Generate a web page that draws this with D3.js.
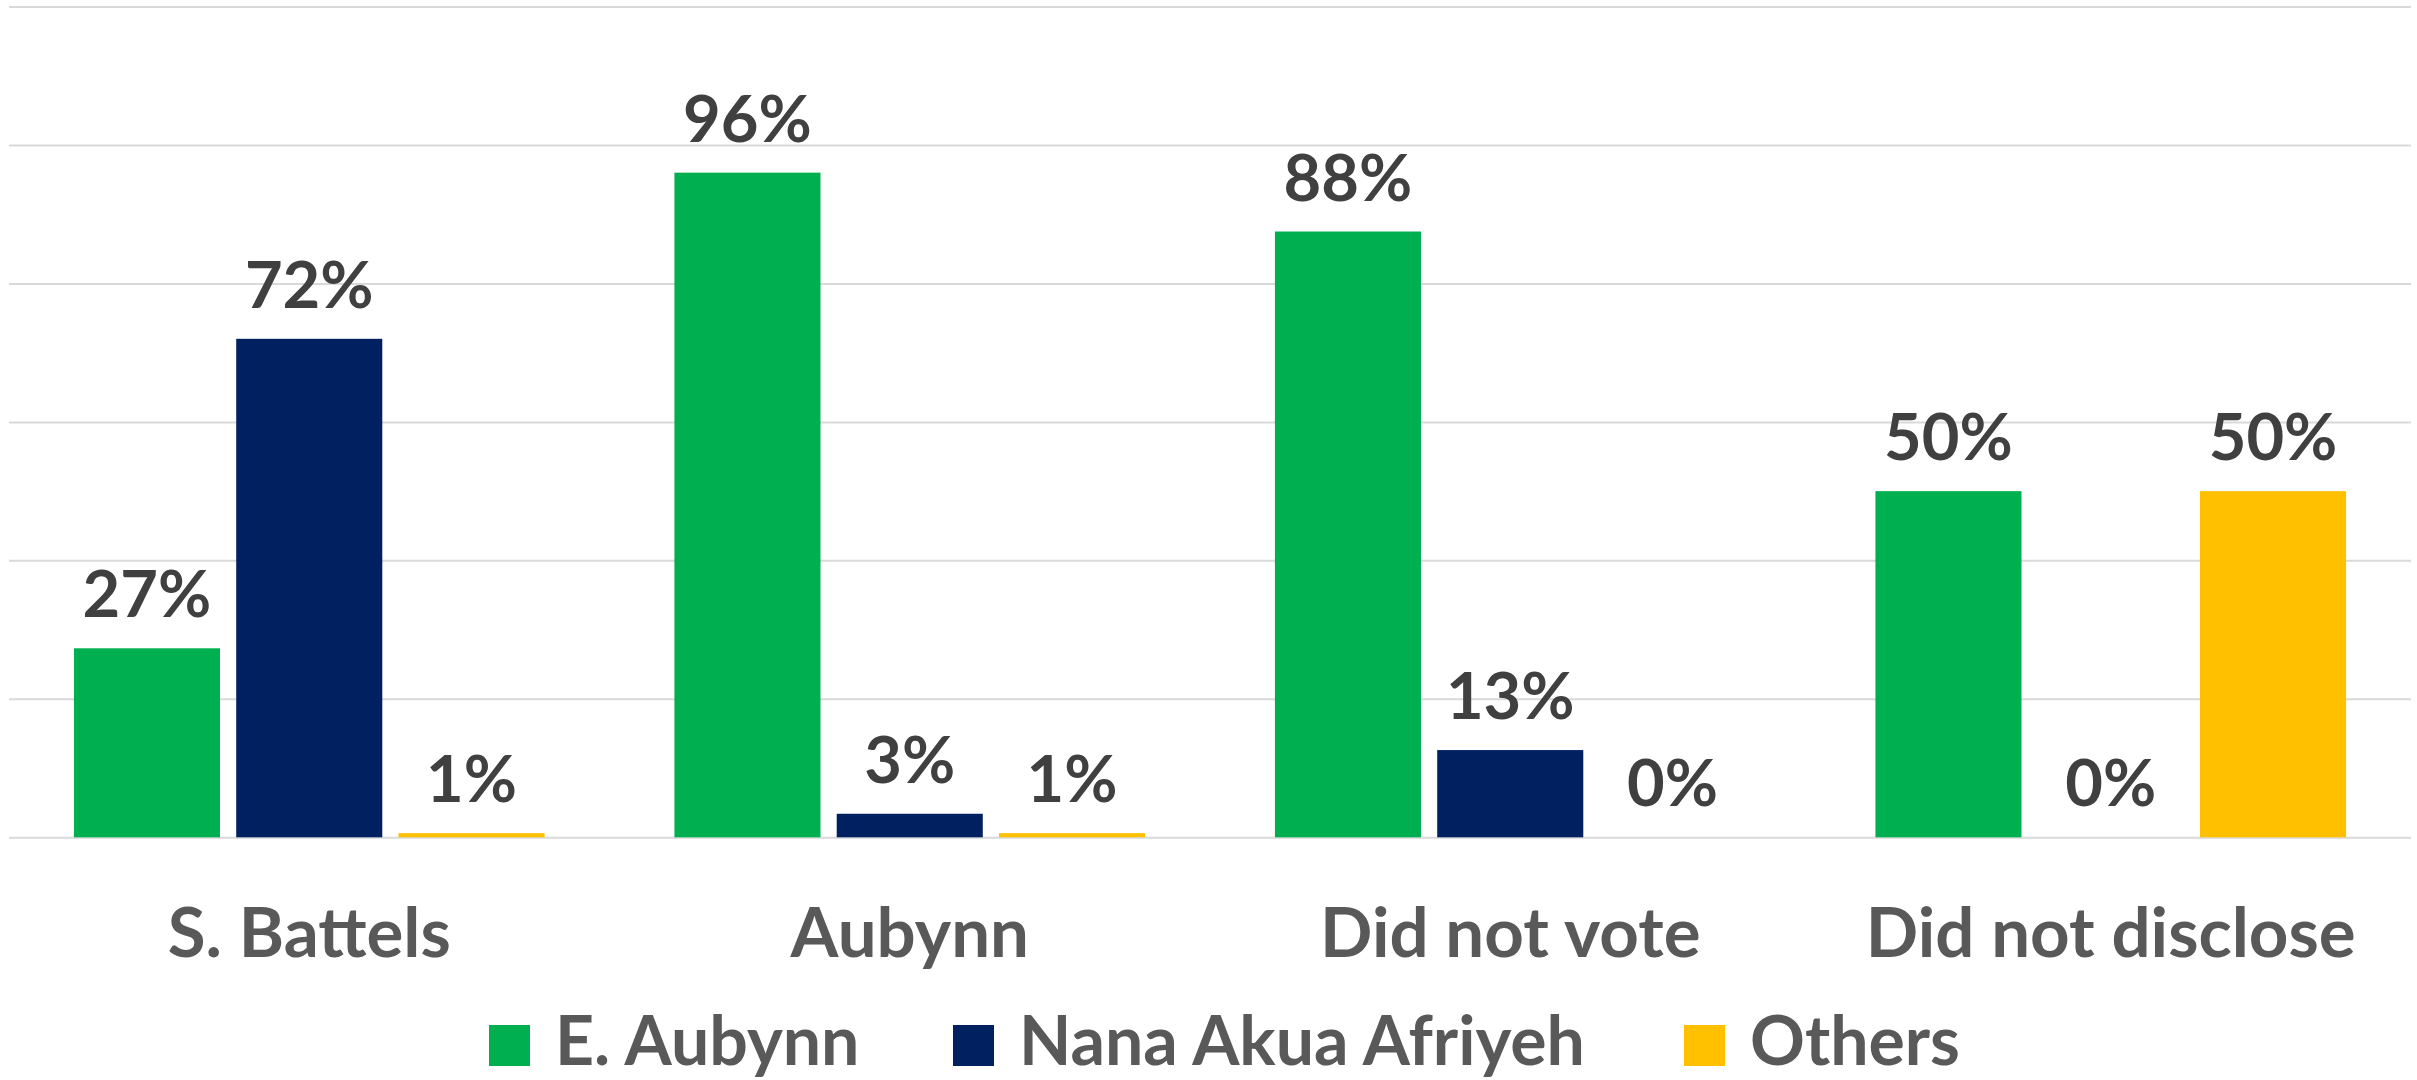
<!DOCTYPE html>
<html>
<head>
<meta charset="utf-8">
<script src="https://cdn.jsdelivr.net/npm/d3@7"></script>
<style>
  html, body { margin: 0; padding: 0; background: #fff; }
  svg { display: block; }
  text { font-family: Lato, "Open Sans", sans-serif; font-weight: 700; }
</style>
</head>
<body>
<svg id="chart" width="2417" height="1080"></svg>
<script>
const categories = ["S. Battels", "Aubynn", "Did not vote", "Did not disclose"];
const seriesNames = ["E. Aubynn", "Nana Akua Afriyeh", "Others"];
const seriesColors = ["#00B050", "#002060", "#FFC000"];
const eAubynn = [27.3, 96, 87.5, 50];
const nanaAkua = [72, 3.4, 12.6, 0];
const others = [0.6, 0.6, 0, 50];
const yTicks = [0, 20, 40, 60, 80, 100, 120];

const seriesValues = [eAubynn, nanaAkua, others];

const svg = d3.select("#chart");
const plot = { left: 9, right: 2411, top: 6.5, bottom: 837.3 };

const x0 = d3.scaleBand().domain(categories).range([plot.left, plot.right]).paddingInner(0).paddingOuter(0);
const x1 = d3.scaleBand().domain(seriesNames).range([0, x0.bandwidth()]).paddingInner(0.1).paddingOuter(0.4);
const y = d3.scaleLinear().domain([0, 120]).range([plot.bottom, plot.top]);

// gridlines
const yAxis = d3.axisLeft(y).tickValues(yTicks).tickSize(-(plot.right - plot.left)).tickFormat("");
const gAxis = svg.append("g").attr("transform", `translate(${plot.left},0)`).call(yAxis);
gAxis.select(".domain").remove();
gAxis.selectAll(".tick line").attr("stroke", "#D9D9D9").attr("stroke-width", 2);

// bars
const rows = [];
categories.forEach((c, i) => {
  seriesNames.forEach((s, j) => {
    rows.push({ cat: c, series: s, value: seriesValues[j][i], color: seriesColors[j] });
  });
});

svg.append("g").selectAll("rect").data(rows).join("rect")
  .attr("x", d => x0(d.cat) + x1(d.series))
  .attr("width", x1.bandwidth())
  .attr("y", d => y(d.value))
  .attr("height", d => y(0) - y(d.value))
  .attr("fill", d => d.color);

// data labels
svg.append("g").selectAll("text").data(rows).join("text")
  .attr("x", d => x0(d.cat) + x1(d.series) + x1.bandwidth() / 2)
  .attr("y", d => y(d.value) - 31)
  .attr("text-anchor", "middle")
  .attr("font-size", 65)
  .attr("fill", "#404040")
  .text(d => Math.round(d.value) + "%");

// category axis labels
const xAxis = d3.axisBottom(x0).tickSize(0).tickPadding(0);
const gx = svg.append("g").attr("transform", `translate(0,${plot.bottom})`).call(xAxis);
gx.select(".domain").remove();
gx.selectAll(".tick text")
  .attr("dy", 0)
  .attr("y", 120)
  .attr("font-size", 69)
  .attr("font-family", "Lato, 'Open Sans', sans-serif")
  .attr("font-weight", 700)
  .attr("fill", "#595959");

// legend
const legend = svg.append("g").attr("class", "legend");
const legendX = [489, 953, 1684];
seriesNames.forEach((s, j) => {
  const g = legend.append("g").attr("transform", `translate(${legendX[j]},1025)`);
  g.append("rect").attr("width", 41).attr("height", 41).attr("fill", seriesColors[j]);
  g.append("text").attr("x", 66).attr("y", 40)
    .attr("font-size", 68).attr("fill", "#595959").text(s);
});
</script>
</body>
</html>
